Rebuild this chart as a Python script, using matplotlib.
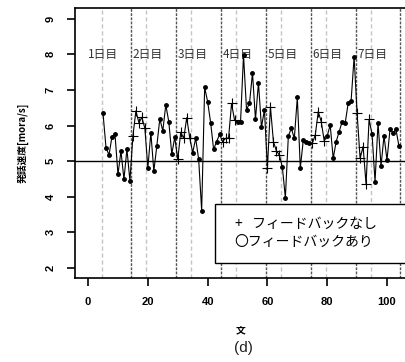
import numpy as np
import matplotlib.pyplot as plt
from matplotlib.patches import Rectangle

plt.rcParams['font.family'] = ['Liberation Sans', 'Noto Sans CJK JP', 'DejaVu Sans']

# sentence numbers 5..104, speaking rate [mora/s]
sentence = np.arange(5, 105)
speed = [
    6.34, 5.38, 5.17, 5.69, 5.76, 4.63, 5.28, 4.49, 5.34, 4.44,
    5.71, 6.41, 6.08, 6.23, 5.92, 4.81, 5.80, 4.72, 5.43, 6.19, 5.85, 6.58, 6.11, 5.20, 5.67,
    5.05, 5.81, 5.64, 6.22, 5.66, 5.24, 5.64, 5.05, 3.61, 7.07, 6.67, 6.08, 5.33, 5.55, 5.75,
    5.55, 5.64, 5.65, 6.62, 6.15, 6.09, 6.09, 7.98, 6.45, 6.62, 7.48, 6.17, 7.20, 5.95, 6.44,
    4.80, 6.53, 5.55, 5.29, 5.17, 4.83, 3.97, 5.71, 5.92, 5.64, 6.79, 4.81, 5.59, 5.53, 5.50,
    5.50, 5.73, 6.39, 6.11, 5.57, 5.71, 6.01, 5.08, 5.55, 5.83, 6.11, 6.06, 6.62, 6.70, 7.93,
    6.34, 5.08, 5.41, 4.35, 6.17, 5.76, 4.42, 6.08, 4.86, 5.71, 5.03, 5.89, 5.80, 5.89, 5.42,
]
day_labels = ["1日目", "2日目", "3日目", "4日目", "5日目", "6日目", "7日目"]
day_len = 15
no_fb_len = 5
baseline = 5

speed = np.array(speed)
no_fb = (sentence % day_len) < no_fb_len

fig = plt.figure(figsize=(4.05, 3.62), dpi=100)
ax = fig.add_axes([0.185, 0.232, 0.82, 0.746])

for d in range(len(day_labels)):
    start = d * day_len
    ax.axvline(start + no_fb_len - 0.5, color="#c4c4c4", lw=1, ls=(0, (3, 2)), zorder=1)
    ax.axvline(start + day_len - 0.5, color="#555555", lw=1, ls=(0, (2, 1)), zorder=1)
    ax.text(start + no_fb_len, 8, day_labels[d], ha="center", va="center",
            fontsize=8.5, color="#333333", family=["Noto Sans CJK JP"])

ax.axhline(baseline, color="black", lw=1, zorder=2)

ax.plot(sentence, speed, color="black", lw=0.8, zorder=3)
ax.plot(sentence[~no_fb], speed[~no_fb], "o", color="black", ms=2.5, zorder=4)
ax.plot(sentence[no_fb], speed[no_fb], "+", color="black", ms=7, mew=0.8, zorder=4)

# legend box
ax.add_patch(Rectangle((42.5, 2.15), 70, 1.65, facecolor="white", edgecolor="black",
                       lw=1, zorder=5, clip_on=True))
ax.text(49, 3.25, "+   フィードバックなし", fontsize=10, va="center", ha="left", zorder=6,
        family=["Noto Sans CJK JP", "DejaVu Sans"])
ax.text(49, 2.72, "〇フィードバックあり", fontsize=10, va="center", ha="left", zorder=6,
        family=["Noto Sans CJK JP", "DejaVu Sans"])

ax.set_xlim(-4.4, 106.7)
ax.set_ylim(1.72, 9.3)
ax.set_xticks(np.arange(0, 101, 20))
ax.set_yticks(np.arange(2, 10, 1))
ax.tick_params(length=6, width=1.2, labelsize=8, pad=8)
for lab in ax.get_xticklabels() + ax.get_yticklabels():
    lab.set_fontweight("bold")
for lab in ax.get_yticklabels():
    lab.set_rotation(90)
    lab.set_va("center")
for s in ax.spines.values():
    s.set_linewidth(1.2)

ax.set_ylabel("発話速度[mora/s]", fontsize=7, fontweight="bold",
              family=["Noto Sans CJK JP"], labelpad=12)
ax.set_xlabel("文", fontsize=7, fontweight="bold", family=["Noto Sans CJK JP"], labelpad=13)
fig.text(0.6, 0.038, "(d)", ha="center", va="center", fontsize=11, color="#222222")

fig.savefig("out.png", dpi=100)
